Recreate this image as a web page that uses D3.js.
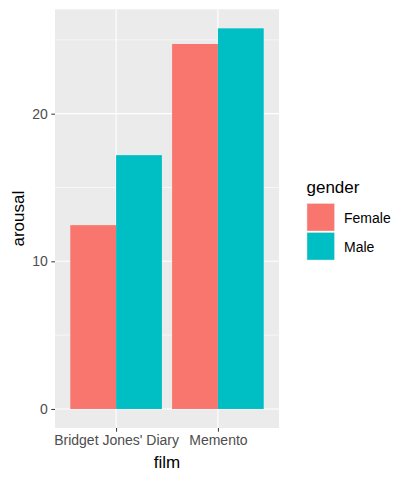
<!DOCTYPE html>
<html>
<head>
<meta charset="utf-8">
<script src="https://cdn.jsdelivr.net/npm/d3@7"></script>
<style>
body { margin: 0; background: #fff; }
text { font-family: "Liberation Sans", Arial, sans-serif; }
</style>
</head>
<body>
<svg id="chart" width="412" height="483"></svg>
<script>
var films = ["Bridget Jones' Diary", "Memento"];
var genders = ["Female", "Male"];
var female = [12.45, 24.72];
var male = [17.19, 25.78];
var yTicks = [0, 10, 20];
var yMinor = [5, 15, 25];
var colors = ["#F8766D", "#00BFC4"];

var svg = d3.select("#chart"),
	margin = { top: 9.3, left: 55, right: 133, bottom: 55 },
	width = +svg.attr("width"),
	height = +svg.attr("height");

var x0 = margin.left, x1 = width - margin.right,
	y0 = height - margin.bottom, y1 = margin.top;

var maxV = d3.max(female.concat(male));
var pad = maxV * 0.05;
var yScale = d3.scaleLinear().domain([-pad, maxV + pad]).range([y0, y1]);
// discrete scale, 0.6 expansion on each side
var xScale = d3.scaleLinear().domain([0.4, films.length + 0.6]).range([x0, x1]);

var data = [];
films.forEach(function(f, i) {
	data.push({ film: i, g: 0, value: female[i] });
	data.push({ film: i, g: 1, value: male[i] });
});

svg.append("rect")
	.attr("x", x0).attr("y", y1)
	.attr("width", x1 - x0).attr("height", y0 - y1)
	.attr("fill", "#EBEBEB");

var grid = svg.append("g");
grid.selectAll(".minor").data(yMinor).enter().append("line")
	.attr("x1", x0).attr("x2", x1)
	.attr("y1", function(d) { return yScale(d); })
	.attr("y2", function(d) { return yScale(d); })
	.attr("stroke", "#fff").attr("stroke-width", 0.55);
grid.selectAll(".major").data(yTicks).enter().append("line")
	.attr("x1", x0).attr("x2", x1)
	.attr("y1", function(d) { return yScale(d); })
	.attr("y2", function(d) { return yScale(d); })
	.attr("stroke", "#fff").attr("stroke-width", 1.1);
grid.selectAll(".vmajor").data(films).enter().append("line")
	.attr("x1", function(d, i) { return xScale(i + 1); })
	.attr("x2", function(d, i) { return xScale(i + 1); })
	.attr("y1", y1).attr("y2", y0)
	.attr("stroke", "#fff").attr("stroke-width", 1.1);

var bw = 0.9 / 2;
svg.append("g").selectAll("rect").data(data).enter().append("rect")
	.attr("x", function(d) { return xScale(d.film + 1 - 0.45 + d.g * bw); })
	.attr("width", function(d) { return xScale(bw) - xScale(0); })
	.attr("y", function(d) { return yScale(d.value); })
	.attr("height", function(d) { return yScale(0) - yScale(d.value); })
	.attr("fill", function(d) { return colors[d.g]; });

// y axis
var yAxis = svg.append("g").attr("transform", "translate(" + x0 + ",0)")
	.call(d3.axisLeft(yScale).tickValues(yTicks).tickSize(3.7).tickPadding(3.5));
yAxis.select(".domain").remove();
yAxis.selectAll("line").attr("stroke", "#333");
yAxis.selectAll("text").attr("fill", "#4D4D4D").style("font-size", "14px")
	.style("font-family", "Liberation Sans, Arial, sans-serif");

// x axis
var xAxis = svg.append("g").attr("transform", "translate(0," + y0 + ")")
	.call(d3.axisBottom(xScale).tickValues([1, 2]).tickSize(3.7).tickPadding(3.5)
		.tickFormat(function(d) { return films[d - 1]; }));
xAxis.select(".domain").remove();
xAxis.selectAll("line").attr("stroke", "#333");
xAxis.selectAll("text").attr("fill", "#4D4D4D").style("font-size", "14px")
	.style("font-family", "Liberation Sans, Arial, sans-serif");

svg.append("text")
	.attr("x", (x0 + x1) / 2).attr("y", 468)
	.attr("text-anchor", "middle").attr("font-size", "17px").attr("fill", "#000")
	.text("film");
svg.append("text")
	.attr("transform", "translate(24," + ((y0 + y1) / 2) + ") rotate(-90)")
	.attr("text-anchor", "middle").attr("font-size", "17px").attr("fill", "#000")
	.text("arousal");

// legend
var lg = svg.append("g").attr("transform", "translate(306.5,0)");
lg.append("text").attr("x", 0).attr("y", 193)
	.attr("font-size", "17px").attr("fill", "#000").text("gender");
var keys = lg.selectAll(".key").data(genders).enter().append("g")
	.attr("transform", function(d, i) { return "translate(0," + (203 + i * 29) + ")"; });
keys.append("rect").attr("width", 28.5).attr("height", 28.5).attr("fill", "#F2F2F2");
keys.append("rect").attr("x", 0.7).attr("y", 0.7).attr("width", 27.1).attr("height", 27.1)
	.attr("fill", function(d, i) { return colors[i]; });
keys.append("text").attr("x", 37.5).attr("y", 19.5)
	.attr("font-size", "14px").attr("fill", "#000")
	.text(function(d) { return d; });
</script>
</body>
</html>
